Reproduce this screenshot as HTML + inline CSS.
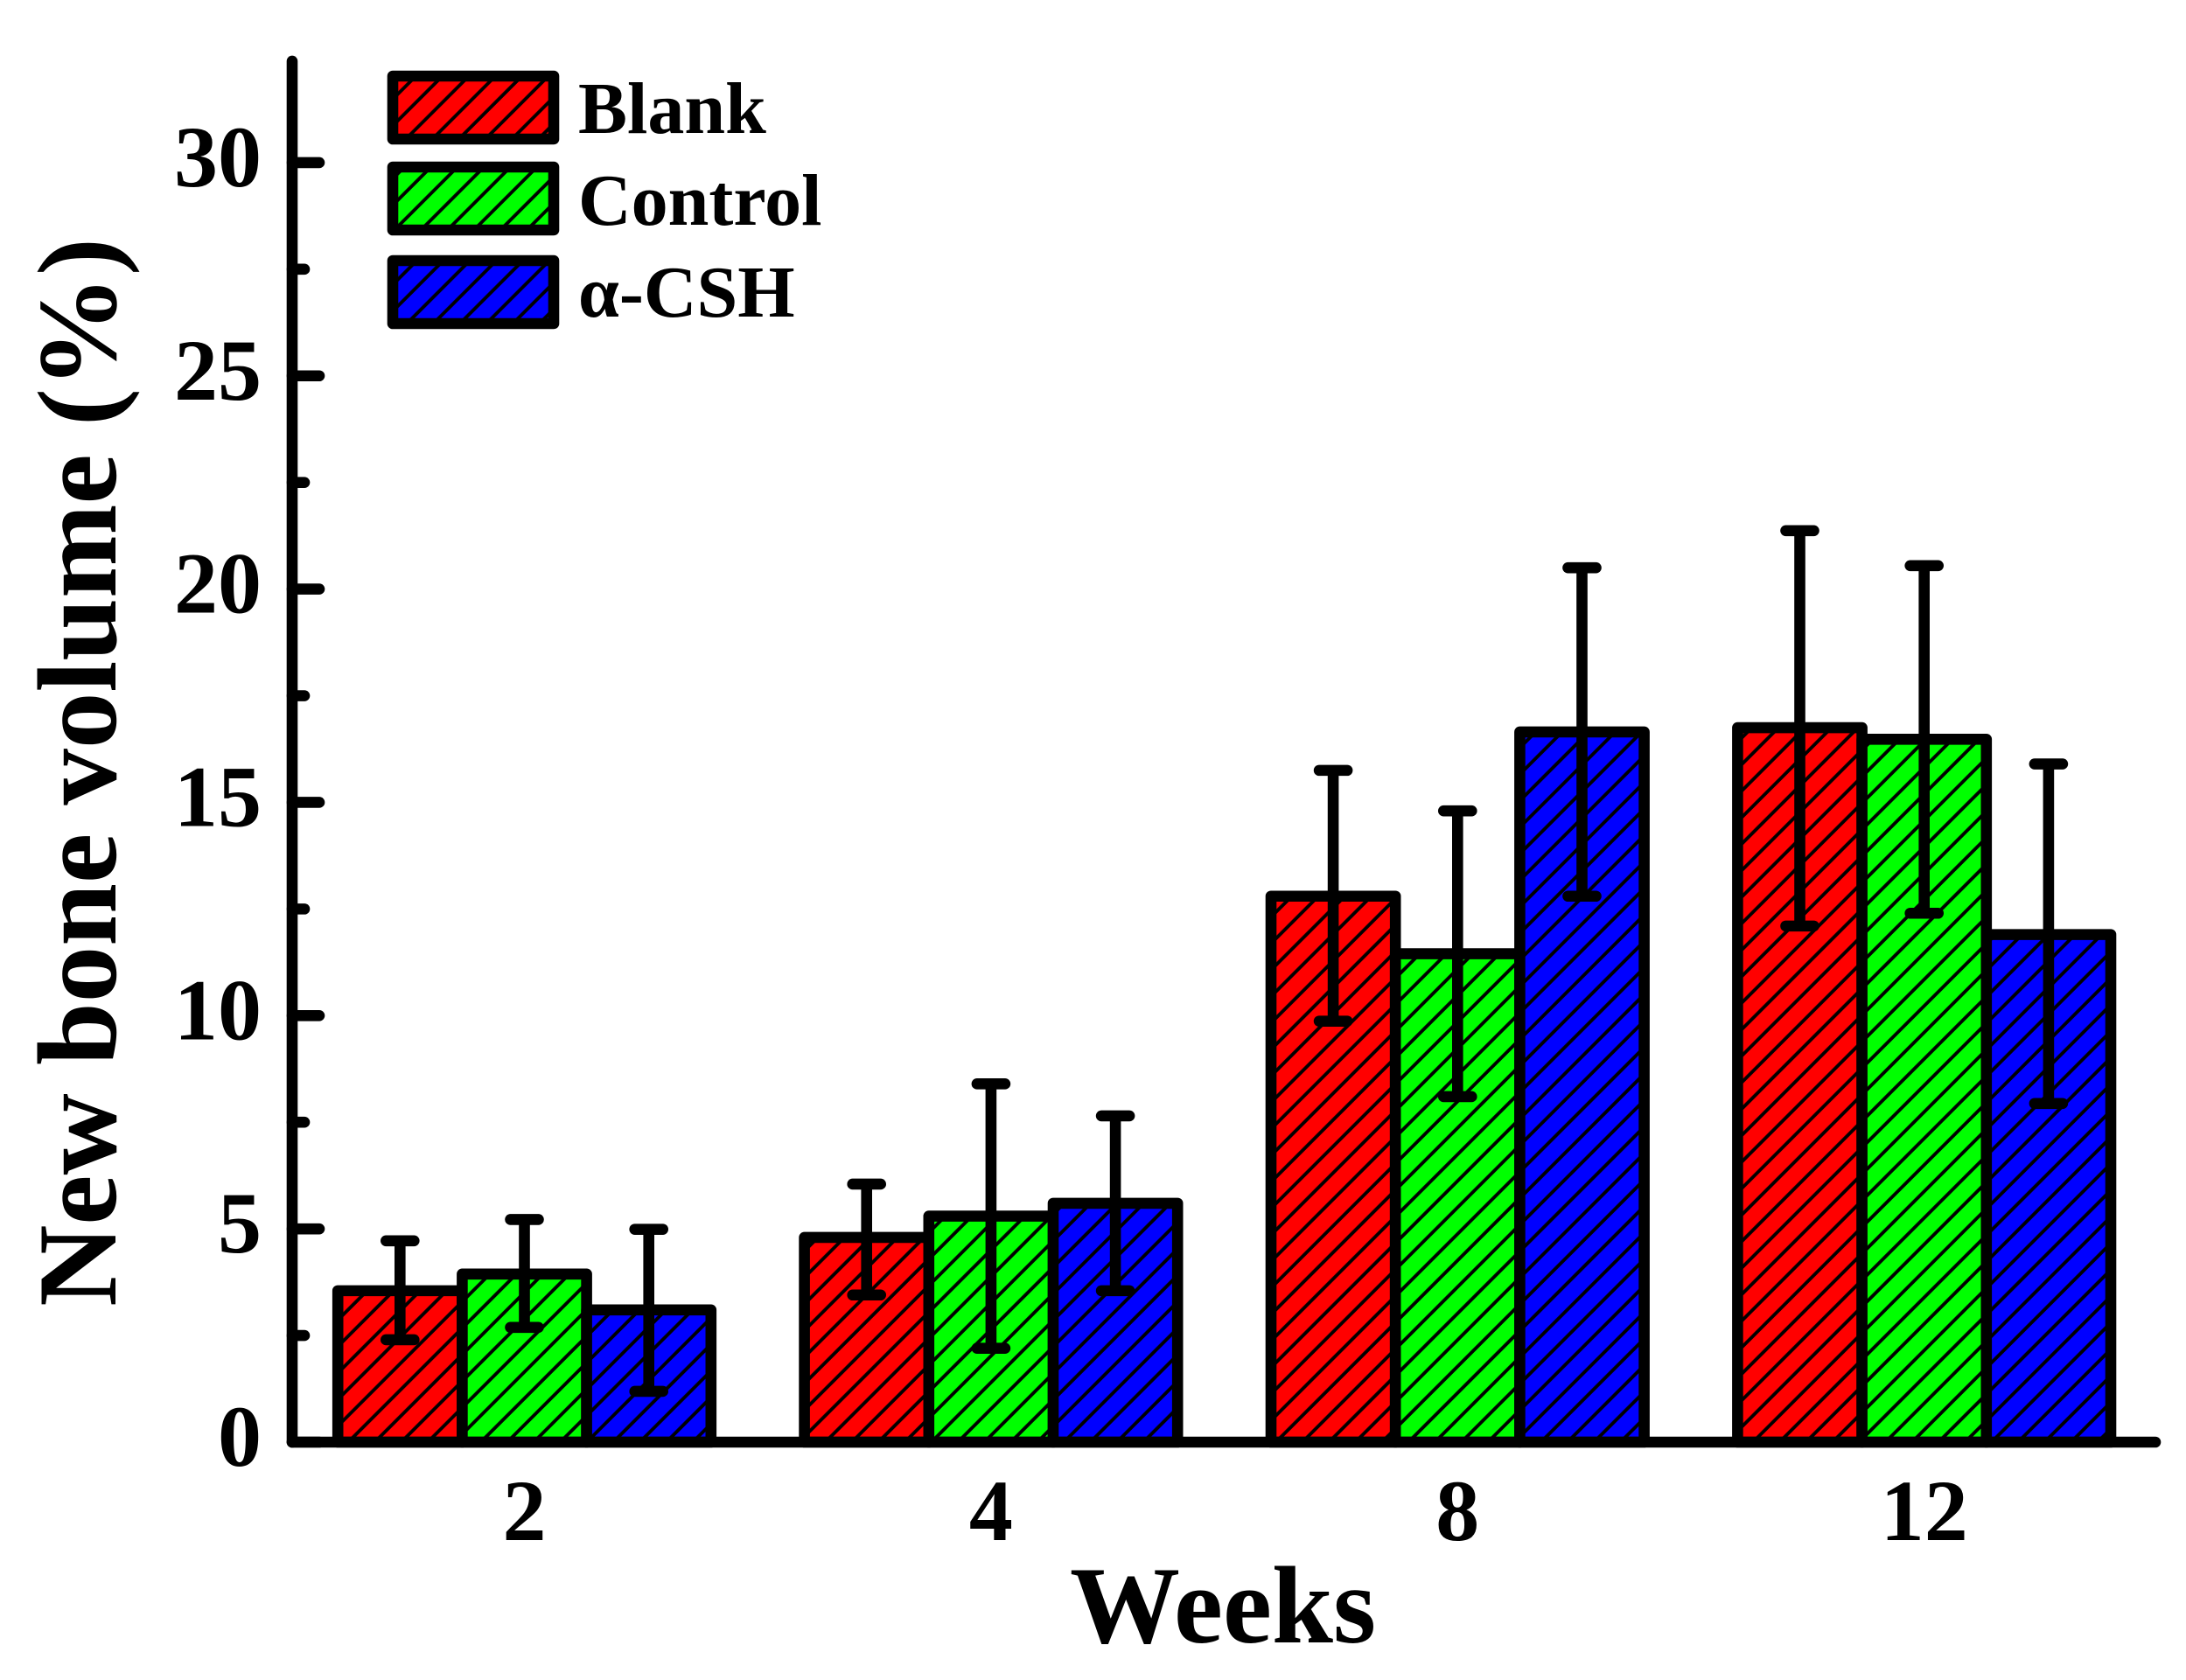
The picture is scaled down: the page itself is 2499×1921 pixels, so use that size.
<!DOCTYPE html>
<html lang="en">
<head>
<meta charset="utf-8">
<title>New bone volume chart</title>
<style>
html,body{margin:0;padding:0;background:#fff}
svg{display:block}
text{font-family:"Liberation Serif",serif;font-weight:bold;fill:#000}
</style>
</head>
<body>
<svg id="chart" xmlns="http://www.w3.org/2000/svg" width="2499" height="1921" viewBox="0 0 2499 1921">
<defs>
<pattern id="hatch" patternUnits="userSpaceOnUse" width="21.425" height="21.425" patternTransform="rotate(-45 0 0)">
<line x1="0" y1="12" x2="21.425" y2="12" stroke="#000" stroke-width="3.9"></line>
</pattern>
</defs>
<g id="bars"></g>
<g id="errors"></g>
<g id="axes"></g>
<g id="legend"></g>
<text transform="translate(132 883) rotate(-90)" text-anchor="middle" font-size="129">New bone volume (%)</text>
<text x="1398" y="1878" text-anchor="middle" font-size="126">Weeks</text>
</svg>
<script>
const categories = ['2', '4', '8', '12'];
const seriesNames = ['Blank', 'Control', 'α-CSH'];
const seriesColors = ['#ff0000', '#00ff00', '#0000ff'];
const blankValues = [3.55, 4.8, 12.8, 16.75];
const controlValues = [3.94, 5.3, 11.45, 16.48];
const cshValues = [3.1, 5.6, 16.65, 11.9];
const blankErrHigh = [4.72, 6.05, 15.75, 21.37];
const controlErrHigh = [5.22, 8.4, 14.8, 20.55];
const cshErrHigh = [4.99, 7.65, 20.5, 15.9];
const blankErrLow = [2.4, 3.45, 9.87, 12.1];
const controlErrLow = [2.69, 2.2, 8.1, 12.4];
const cshErrLow = [1.19, 3.55, 12.8, 7.94];
const yTickLabels = [0, 5, 10, 15, 20, 25, 30];
const yMinorTicks = [2.5, 7.5, 12.5, 17.5, 22.5, 27.5];

const NS = 'http://www.w3.org/2000/svg';
const yMaxValue = 32.5;
const y0 = 1649, yUnit = 48.77;
const group0 = 599.5, groupStep = 533.4, barW = 142.2;
const axisX = 334;
const strokeW = 12.6;
const yScale = v => y0 - v * yUnit;
const groupCenter = i => group0 + i * groupStep;
const barLeft = (g, s) => groupCenter(g) + (s - 1.5) * barW;

function make(tag, parent, attrs, text) {
  const el = document.createElementNS(NS, tag);
  for (const k in attrs) el.setAttribute(k, attrs[k]);
  if (text !== undefined) el.textContent = text;
  parent.appendChild(el);
  return el;
}
function ln(parent, x1, y1, x2, y2, cap) {
  return make('line', parent, {x1, y1, x2, y2, stroke: '#000', 'stroke-width': strokeW, 'stroke-linecap': cap || 'round'});
}

const barsG = document.getElementById('bars');
const errG = document.getElementById('errors');
const axesG = document.getElementById('axes');
const legendG = document.getElementById('legend');

const valueSets = [blankValues, controlValues, cshValues];
const highSets = [blankErrHigh, controlErrHigh, cshErrHigh];
const lowSets = [blankErrLow, controlErrLow, cshErrLow];

categories.forEach((cat, g) => {
  valueSets.forEach((vals, s) => {
    const x = barLeft(g, s), top = yScale(vals[g]);
    const base = make('rect', barsG, {x, y: top, width: barW, height: y0 - top, fill: seriesColors[s]});
    
    
    const hatch = make('rect', barsG, {x, y: top, width: barW, height: y0 - top, fill: 'url(#hatch)', stroke: '#000', 'stroke-width': strokeW, 'stroke-linejoin': 'round'});
    
    
  });
});

categories.forEach((cat, g) => {
  valueSets.forEach((vals, s) => {
    const cx = barLeft(g, s) + barW / 2;
    const hi = yScale(highSets[s][g]), lo = yScale(lowSets[s][g]);
    const eg = make('g', errG, {});
    
    
    ln(eg, cx, hi, cx, lo, 'butt');
    ln(eg, cx - 16, hi, cx + 16, hi);
    ln(eg, cx - 16, lo, cx + 16, lo);
  });
});

const yAxis = ln(axesG, axisX, yScale(yMaxValue) + 6, axisX, y0);


const xAxis = ln(axesG, axisX, y0, 2464, y0);



yTickLabels.forEach(v => {
  const t = ln(axesG, axisX, yScale(v), 365, yScale(v));
  
  
  const lab = make('text', axesG, {x: 299, y: yScale(v) + 27, 'text-anchor': 'end', 'font-size': 100}, String(v));
  
  
});
yMinorTicks.forEach(v => {
  const t = ln(axesG, axisX, yScale(v), 348, yScale(v));
  
  
});
categories.forEach((cat, g) => {
  const lab = make('text', axesG, {x: groupCenter(g), y: 1761, 'text-anchor': 'middle', 'font-size': 100}, cat);
  
  
});

const legendTops = [87, 191, 298];
const legendBase = [152, 257, 362];
seriesNames.forEach((name, s) => {
  const g = make('g', legendG, {});
  
  
  make('rect', g, {x: 449, y: legendTops[s], width: 184, height: 72, fill: seriesColors[s]});
  make('rect', g, {x: 449, y: legendTops[s], width: 184, height: 72, fill: 'url(#hatch)', stroke: '#000', 'stroke-width': strokeW, 'stroke-linejoin': 'round'});
  make('text', g, {x: 661, y: legendBase[s], 'font-size': 84}, name);
});
</script>
</body>
</html>
